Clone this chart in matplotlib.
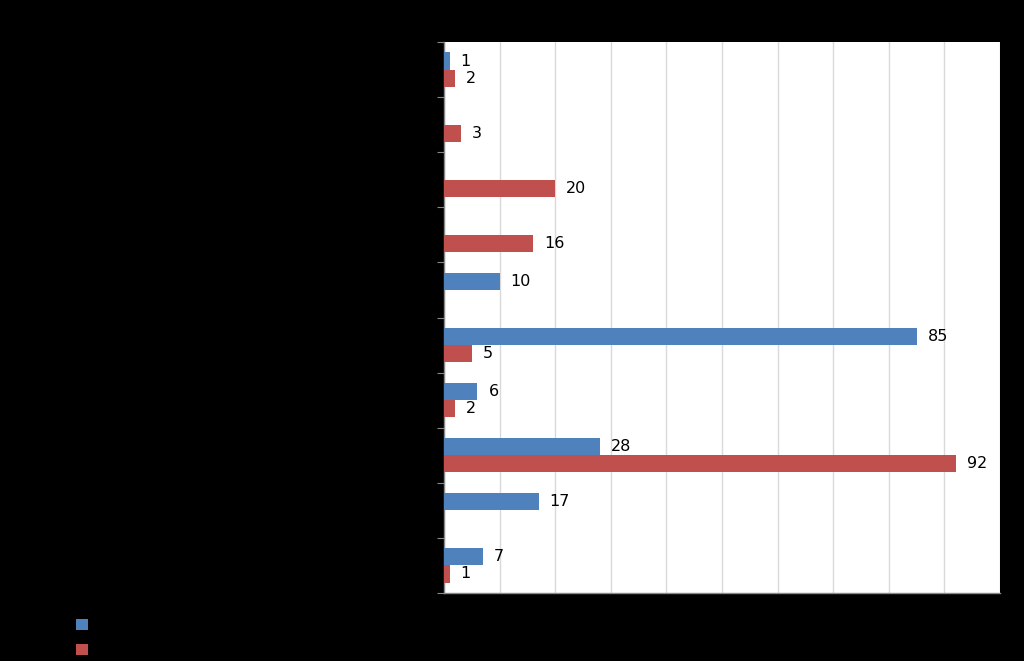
import numpy as np
import matplotlib
matplotlib.use("Agg")
import matplotlib.pyplot as plt

# --- Data (top to bottom, as in the picture) ---
# category and legend texts are black on black in the reference, so unreadable
categories = ["Category 1", "Category 2", "Category 3", "Category 4", "Category 5",
              "Category 6", "Category 7", "Category 8", "Category 9", "Category 10"]
series_names = ["Series 1", "Series 2"]
blue_vals = [1, 0, 0, 0, 10, 85, 6, 28, 17, 7]
red_vals = [2, 3, 20, 16, 0, 5, 2, 92, 0, 1]

blue = "#4F81BD"
red = "#C0504D"

fig = plt.figure(figsize=(10.24, 6.61), dpi=100, facecolor="black")
ax = fig.add_axes([444 / 1024, 1 - 593 / 661, 556 / 1024, 551 / 661])
ax.set_facecolor("white")

y = np.arange(len(categories))
h = 0.31

# skip zero values, like the reference (no bar, no label)
bv = np.array(blue_vals, dtype=float)
rv = np.array(red_vals, dtype=float)
bmask = bv > 0
rmask = rv > 0

b1 = ax.barh(y[bmask] - h / 2, bv[bmask], height=h, color=blue, label=series_names[0], zorder=3)
b2 = ax.barh(y[rmask] + h / 2, rv[rmask], height=h, color=red, label=series_names[1], zorder=3)

for bars in (b1, b2):
    ax.bar_label(bars, padding=8, fontsize=11.5, color="black", family="DejaVu Sans")

ax.set_xlim(0, 100)
ax.set_xticks(np.arange(0, 101, 10))
ax.set_ylim(len(categories) - 0.5, -0.5)

# category boundaries as tick marks (Excel style)
ax.set_yticks(np.arange(-0.5, len(categories), 1.0))
ax.set_yticklabels([])
ax.set_yticks(y, minor=True)
ax.set_yticklabels(categories, minor=True, color="black", fontsize=11)
ax.tick_params(axis="y", which="minor", length=0)
ax.tick_params(axis="y", which="major", length=5, color="#888888", direction="out")
ax.tick_params(axis="x", length=0, labelcolor="black", labelsize=11)

ax.grid(axis="x", color="#D9D9D9", linewidth=1, zorder=0)
for side in ("top", "right"):
    ax.spines[side].set_visible(False)
for side in ("left", "bottom"):
    ax.spines[side].set_color("#888888")
    ax.spines[side].set_linewidth(1)

# legend bottom left, labels black on black
leg = fig.legend(handles=[b1, b2], labels=series_names,
                 loc="upper left", bbox_to_anchor=(62 / 1024, 1 - 604 / 661),
                 frameon=False, handlelength=0.8, handleheight=0.8,
                 labelspacing=0.65, fontsize=11, labelcolor="black")

fig.savefig("out.png", dpi=100, facecolor="black")
